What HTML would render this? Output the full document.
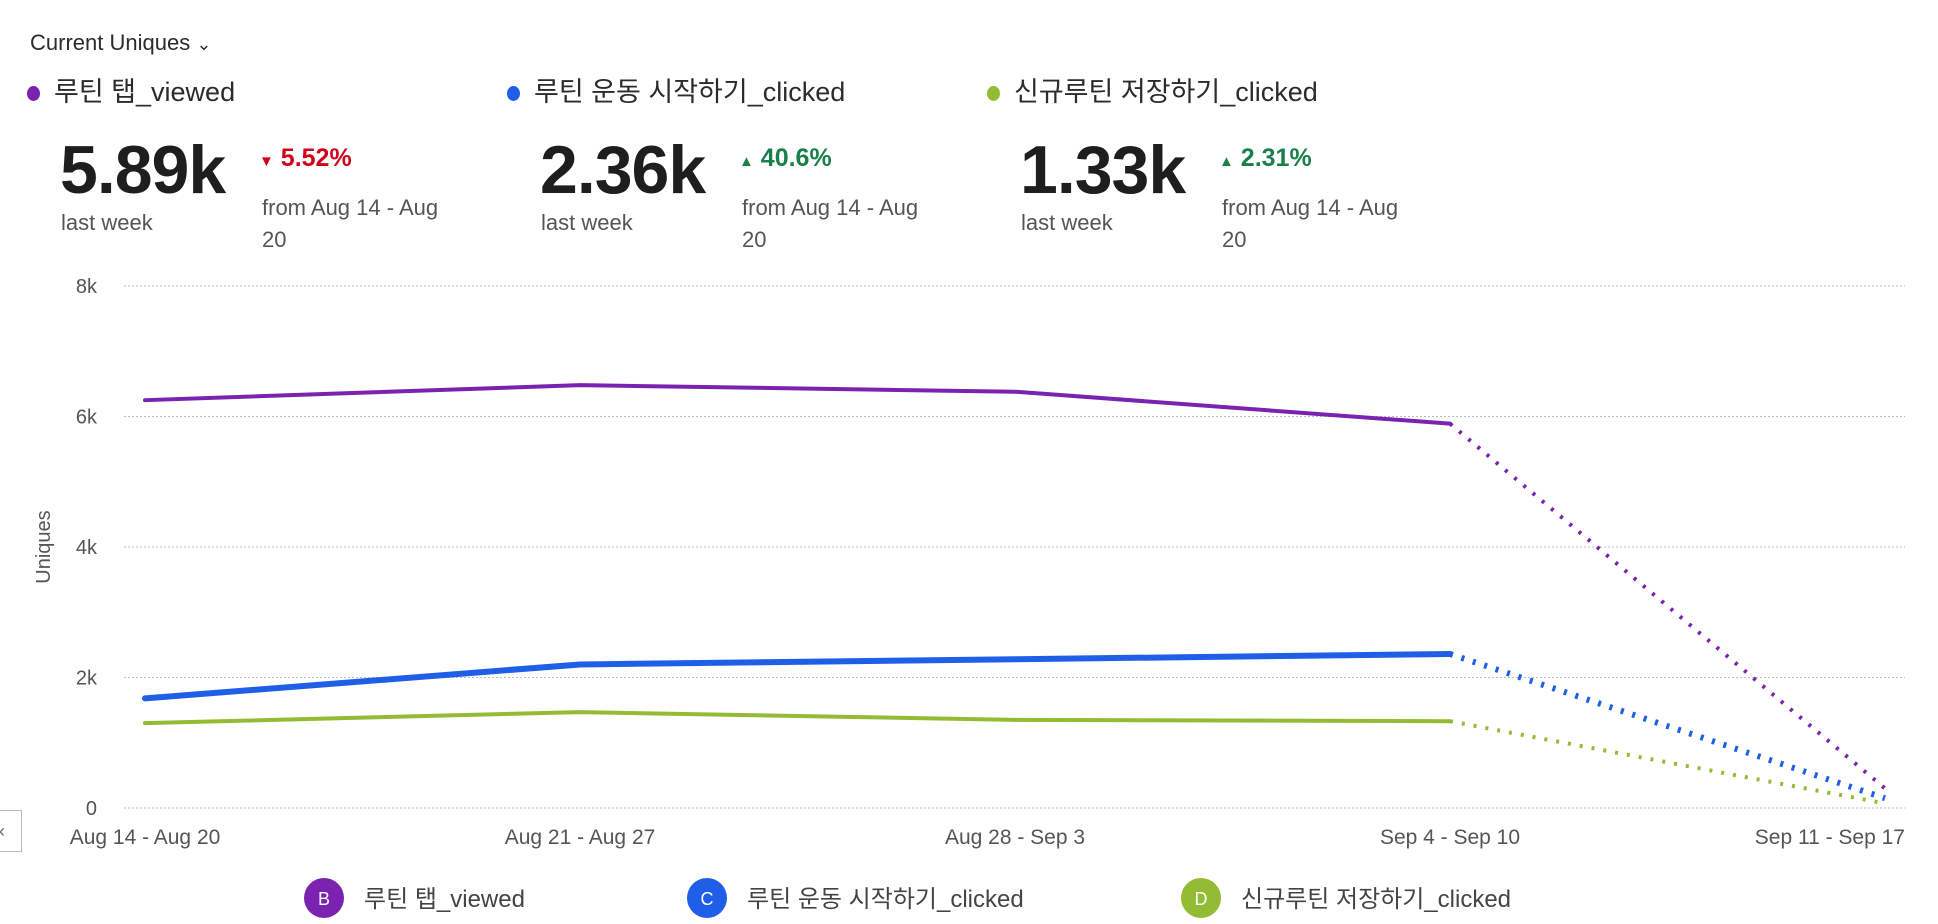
<!DOCTYPE html>
<html><head><meta charset="utf-8"><style>
body{margin:0;width:1938px;height:924px;background:#fff;font-family:"Liberation Sans","Noto Sans CJK KR",sans-serif;color:#2b2b2b;overflow:hidden;position:relative}
.a{position:absolute;white-space:nowrap}
.dot{display:inline-block;width:13px;height:15px;border-radius:50%;margin-right:14px;vertical-align:middle}
.big{font-size:68px;font-weight:bold;color:#1e1e1e;letter-spacing:-1px}
.sm{font-size:22px;color:#555}
.pct{font-size:25px;font-weight:bold}
</style></head><body>
<div class="a" style="left:30px;top:30px;font-size:22px">Current Uniques <span style="font-size:18px">&#8964;</span></div>
<div class="a" style="left:27px;top:70px;font-size:27px"><span class="dot" style="background:#7b22b0"></span>루틴 탭_viewed</div>
<div class="a" style="left:507px;top:70px;font-size:27px"><span class="dot" style="background:#1f5fe8"></span>루틴 운동 시작하기_clicked</div>
<div class="a" style="left:987px;top:70px;font-size:27px"><span class="dot" style="background:#94bb34"></span>신규루틴 저장하기_clicked</div>

<div class="a big" style="left:60px;top:131px">5.89k</div>
<div class="a sm" style="left:61px;top:210px">last week</div>
<div class="a pct" style="left:259px;top:144px;color:#d0021b"><span style="font-size:15px">&#9660;</span> 5.52%</div>
<div class="a sm" style="left:262px;top:192px;line-height:32px">from Aug 14 - Aug<br>20</div>

<div class="a big" style="left:540px;top:131px">2.36k</div>
<div class="a sm" style="left:541px;top:210px">last week</div>
<div class="a pct" style="left:739px;top:144px;color:#1a7f4b"><span style="font-size:15px">&#9650;</span> 40.6%</div>
<div class="a sm" style="left:742px;top:192px;line-height:32px">from Aug 14 - Aug<br>20</div>

<div class="a big" style="left:1020px;top:131px">1.33k</div>
<div class="a sm" style="left:1021px;top:210px">last week</div>
<div class="a pct" style="left:1219px;top:144px;color:#1a7f4b"><span style="font-size:15px">&#9650;</span> 2.31%</div>
<div class="a sm" style="left:1222px;top:192px;line-height:32px">from Aug 14 - Aug<br>20</div>

<div class="a" style="left:-2px;top:810px;width:22px;height:40px;border:1px solid #bbb;font-size:18px;color:#666;line-height:40px">&#8249;</div>

<svg class="a" style="left:0;top:0" width="1938" height="924" id="chart"></svg>
<script>
const categories=["Aug 14 - Aug 20","Aug 21 - Aug 27","Aug 28 - Sep 3","Sep 4 - Sep 10","Sep 11 - Sep 17"];
const seriesB=[6250,6480,6380,5890,300];
const seriesC=[1680,2200,2280,2360,150];
const seriesD=[1300,1470,1350,1330,70];
const yTicks=[0,2000,4000,6000,8000];
const yTickLabels=["0","2k","4k","6k","8k"];
const ns="http://www.w3.org/2000/svg";
const svg=document.getElementById('chart');
const X0=145,X1=1885,Y0=808,Y1=286,YMAX=8000;
function x(i){return X0+(X1-X0)*i/(categories.length-1);}
function y(v){return Y0-(Y0-Y1)*v/YMAX;}
function mk(t,a){const e=document.createElementNS(ns,t);for(const k in a)e.setAttribute(k,a[k]);svg.appendChild(e);return e;}
yTicks.forEach((t,i)=>{
 const g=mk('line',{x1:124,x2:1905,y1:y(t),y2:y(t),stroke:'#bbb','stroke-width':1,'stroke-dasharray':'2,2'});
 
 
 const l=mk('text',{x:97,y:y(t)+7,'text-anchor':'end','font-size':20,fill:'#555'});l.textContent=yTickLabels[i];
 
 
});
const yt=mk('text',{x:50,y:547,'text-anchor':'middle','font-size':20,fill:'#555',transform:'rotate(-90 50 547)'});yt.textContent='Uniques';


categories.forEach((c,i)=>{
 const last=i==categories.length-1;
 const t=mk('text',{x:last?1905:x(i),y:844,'text-anchor':last?'end':'middle','font-size':21,fill:'#555'});t.textContent=c;
 
 
});
function draw(data,color,w,name){
 const n=data.length;
 const solid=data.slice(0,n-1).map((v,i)=>x(i)+','+y(v)).join(' ');
 const p=mk('polyline',{points:solid,fill:'none',stroke:color,'stroke-width':w,'stroke-linejoin':'round','stroke-linecap':'round'});
 
 
 const d=mk('line',{x1:x(n-2),y1:y(data[n-2]),x2:x(n-1),y2:y(data[n-1]),stroke:color,'stroke-width':w,'stroke-dasharray':'3,9'});
 
 
}
draw(seriesD,'#94bb34',4,'series-d');
draw(seriesC,'#1f5fe8',6,'series-c');
draw(seriesB,'#7b22b0',4,'series-b');
const leg=[["B","루틴 탭_viewed","#7b22b0",324],["C","루틴 운동 시작하기_clicked","#1f5fe8",707],["D","신규루틴 저장하기_clicked","#94bb34",1201]];
leg.forEach(l=>{
 const c=mk('circle',{cx:l[3],cy:898,r:20,fill:l[2]});
 
 
 const t=mk('text',{x:l[3],y:905,'text-anchor':'middle','font-size':18,fill:'#fff'});t.textContent=l[0];
 
 
 const s=mk('text',{x:l[3]+40,y:907,'font-size':24,fill:'#444'});s.textContent=l[1];
 
 
});
</script>
</body></html>
